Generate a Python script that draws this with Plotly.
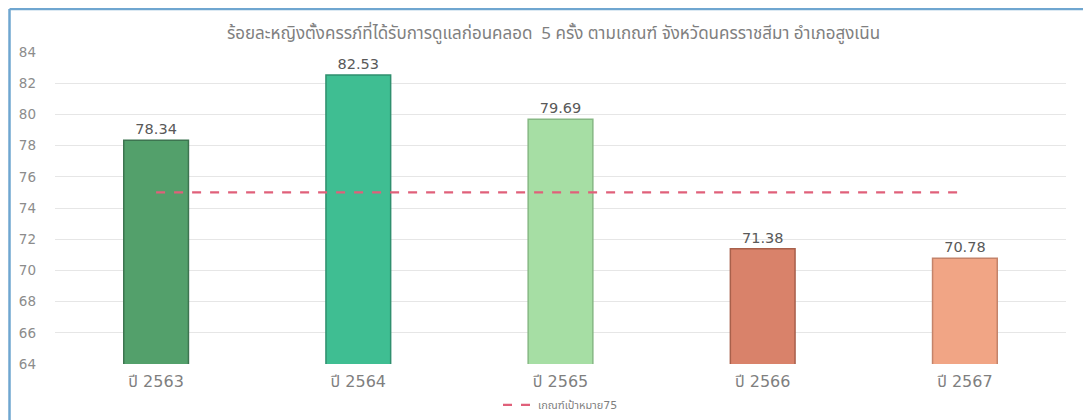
import plotly.graph_objects as go

years = ["ปี 2563", "ปี 2564", "ปี 2565", "ปี 2566", "ปี 2567"]
values = [78.34, 82.53, 79.69, 71.38, 70.78]
target = [75, 75, 75, 75, 75]
bar_colors = ["#53a06b", "#3fbe92", "#a6dea4", "#d9826a", "#f1a585"]
edge_colors = ["#3d7450", "#2f8f6e", "#86b884", "#a8604b", "#c4836a"]

title = "ร้อยละหญิงตั้งครรภ์ที่ได้รับการดูแลก่อนคลอด  5 ครั้ง ตามเกณฑ์ จังหวัดนครราชสีมา อำเภอสูงเนิน"
font_family = "DejaVu Sans, Noto Sans Thai, Tahoma, sans-serif"
border = "#6fa6d0"

fig = go.Figure()

fig.add_trace(go.Bar(
    x=years,
    y=values,
    marker_color=bar_colors,
    marker_line=dict(color=edge_colors, width=1.5),
    text=[f"{v:.2f}" for v in values],
    textposition="outside",
    textfont=dict(size=14.5, color="#595959"),
    cliponaxis=False,
    showlegend=False,
))

fig.add_trace(go.Scatter(
    x=years,
    y=target,
    mode="lines",
    name="เกณฑ์เป้าหมาย75",
    line=dict(color="#e0607a", width=2.2, dash="dash"),
))

# frame around the chart (no bottom edge)
frame = [
    dict(x0=-0.045, x1=-0.045, y0=-0.3, y1=1.138),
    dict(x0=-0.045, x1=1.019, y0=1.138, y1=1.138),
    dict(x0=1.019, x1=1.019, y0=-0.3, y1=1.138),
]
shapes = [dict(type="line", xref="paper", yref="paper", line=dict(color=border, width=2.5), **f)
          for f in frame]

fig.update_layout(
    title=dict(text=title, x=0.5, y=0.94, xanchor="center", yanchor="middle",
               font=dict(size=17, color="#7f7f7f", family="Tahoma, Noto Sans Thai, sans-serif")),
    font=dict(family=font_family),
    plot_bgcolor="white",
    paper_bgcolor="white",
    width=1091,
    height=420,
    bargap=0.68,
    margin=dict(t=44, b=64, l=47, r=33, autoexpand=False),
    legend=dict(orientation="h", x=0.5, xanchor="center", yref="container", y=0.055,
                yanchor="middle", font=dict(size=11, color="#7f7f7f")),
    shapes=shapes,
)

fig.update_xaxes(
    tickfont=dict(size=16, color="#7f7f7f"),
    showline=False,
    ticks="",
    ticklabelstandoff=6,
)

fig.update_yaxes(
    range=[64, 84],
    dtick=2,
    tickfont=dict(size=13.5, color="#8c8c8c"),
    gridcolor="#e6e6e6",
    gridwidth=1,
    zeroline=False,
    ticks="",
    ticklabelstandoff=18,
)

fig.write_html("out.html")
